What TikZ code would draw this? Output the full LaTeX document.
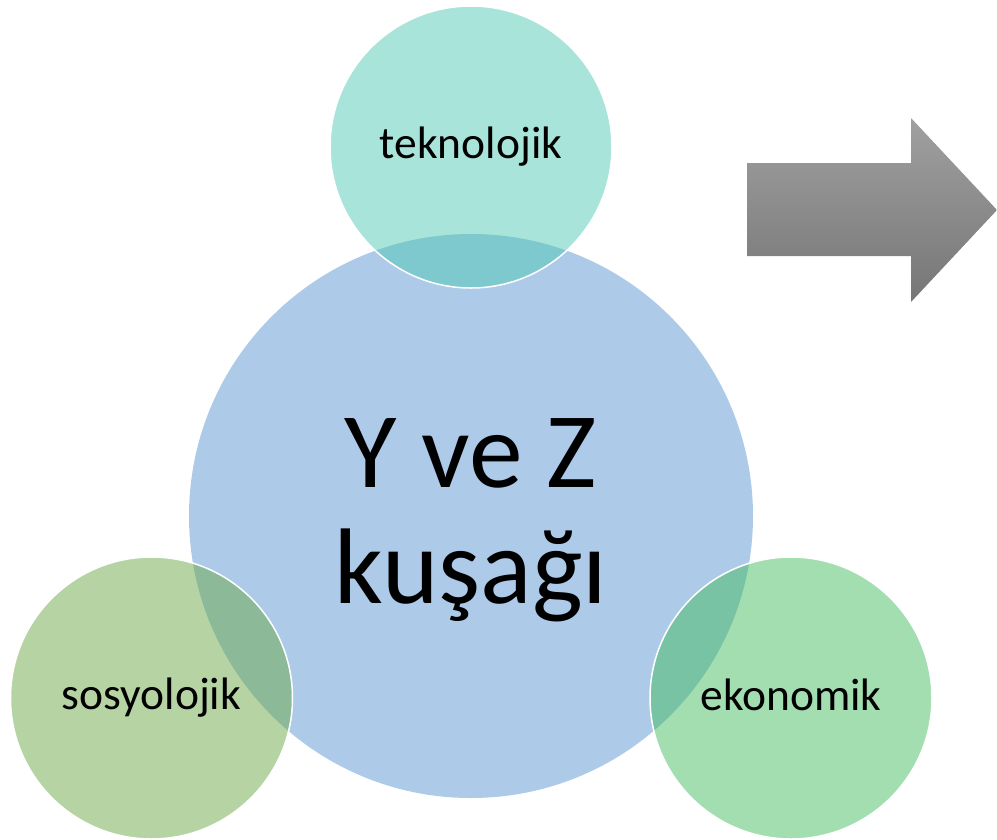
\documentclass[tikz,border=0pt]{standalone}
\usepackage{fontspec}
\setmainfont{Carlito}
\definecolor{bigblue}{RGB}{173,202,232}
\definecolor{ctop}{RGB}{81,201,181}
\definecolor{cleft}{RGB}{109,169,71}
\definecolor{cright}{RGB}{71,189,99}
\definecolor{arrtop}{RGB}{160,160,160}
\definecolor{arrbot}{RGB}{118,118,118}
\begin{document}
\begin{tikzpicture}[x=1pt,y=-1pt,
  small/.style={circle,inner sep=0pt,minimum size=282pt,draw=white,line width=1.5pt,fill opacity=0.5,text opacity=1},
  lbl/.style={font=\fontsize{45.5}{52}\selectfont,anchor=base,inner sep=0pt},
  mainlbl/.style={font=\fontsize{107.5}{116}\selectfont,anchor=base,inner sep=0pt}]
\useasboundingbox (0,0) rectangle (997,839);
\node[circle,inner sep=0pt,minimum size=564pt,fill=bigblue] (big) at (471,516) {};
\node[small,fill=ctop] (top) at (471,147) {};
\node[small,fill=cleft] (left) at (151.5,698) {};
\node[small,fill=cright] (right) at (791,698) {};
\node[mainlbl] (l1) at (471,487) {Y ve Z};
\node[mainlbl] (l2) at (471,603) {kuşağı};
\node[lbl] (ttop) at (471,158) {teknolojik};
\node[lbl] (tleft) at (151.5,709) {sosyolojik};
\node[lbl] (tright) at (791,710) {ekonomik};
\shade[top color=arrtop,bottom color=arrbot] (747,163) -- (911,163) -- (911,118) -- (997,210) -- (911,302) -- (911,256) -- (747,256) -- cycle;
\end{tikzpicture}
\end{document}
